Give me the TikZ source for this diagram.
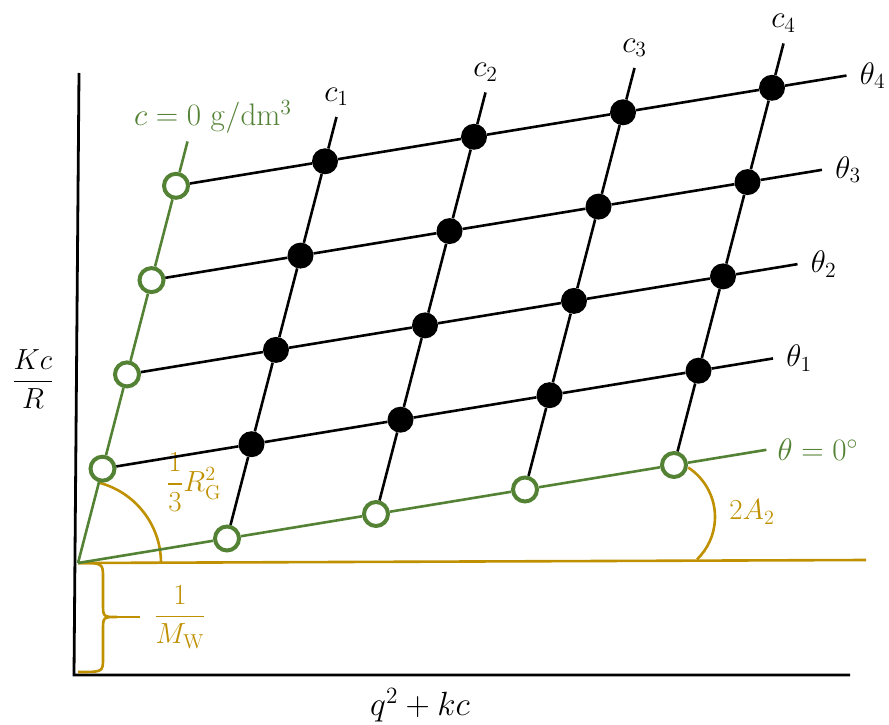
\documentclass[tikz,border=0pt]{standalone}
\usepackage{amsmath}
\definecolor{zmgreen}{RGB}{84,130,53}
\definecolor{zmgold}{RGB}{191,144,0}
\usetikzlibrary{calc,positioning}

\begin{document}
\begin{tikzpicture}[x=1pt,y=1pt,
    dot/.style={circle,fill=black,minimum size=26pt,inner sep=0pt},
    ring/.style={circle,draw=zmgreen,fill=white,line width=4pt,minimum size=24pt,inner sep=0pt},
    gridline/.style={line width=2.6pt,black},
    zeroline/.style={line width=2.6pt,zmgreen},
    goldline/.style={line width=2.6pt,zmgold},
    lbl/.style={font=\huge,scale=1.5,transform shape,inner sep=2pt},
    biglbl/.style={font=\huge,scale=1.4,transform shape,inner sep=2pt},
    axislbl/.style={font=\huge,scale=1.62,transform shape,inner sep=2pt}]
  \useasboundingbox (0,0) rectangle (889,724);

  %% Axes
  \coordinate (O) at (78,161);
  \coordinate (ytop) at (79,651);
  \coordinate (corner) at (74,49);
  \coordinate (xend) at (850,49);
  \draw[line width=2.8pt] (ytop) -- (corner) -- (xend);
  \node[biglbl] (ly) at (33,345) {$\dfrac{Kc}{R}$};
  \node[axislbl] (lx) at (420,19) {$q^2+kc$};

  %% Intercept and limiting slopes (gold)
  \coordinate (gend) at (866,164);
  \draw[goldline] (O) -- (gend);
  \draw[goldline] ($(O)+(83,0)$) arc[start angle=0,end angle=75.4,radius=83];
  \coordinate (arcc) at (656,207);
  \draw[goldline] ($(arcc)+(57:59)$) arc[start angle=57,end angle=-46,radius=59];
  \draw[goldline] (O) .. controls (103,161) .. (103,146) -- (103,121)
        .. controls (103,107) .. (117,107) .. controls (103,107) .. (103,93)
        -- (103,66) .. controls (103,52) .. (78,52);
  \draw[goldline] (117,107) -- (140,107);
  \node[biglbl,text=zmgold] (lmw) at (180,107) {$\dfrac{1}{M_\mathrm{W}}$};
  \node[biglbl,text=zmgold] (lrg) at (194,242) {$\dfrac{1}{3}R_\mathrm{G}^2$};
  \node[biglbl,text=zmgold] (la2) at (752,212) {$2A_2$};

  %% Measured points (grid) and extrapolated points (rings)
  \coordinate (top0) at ($(O)+4.47*(24.5,94.3)$);
  \coordinate (end0) at ($(O)+4.62*(149,24.5)$);
  \foreach \i in {1,...,4}{
    \node[ring] (p\i0) at ($(O)+\i*(149,24.5)$) {};
    \node[ring] (p0\i) at ($(O)+\i*(24.5,94.3)$) {};
    \coordinate (top\i) at ($(O)+\i*(149,24.5)+4.47*(24.5,94.3)$);
    \coordinate (end\i) at ($(O)+4.5*(149,24.5)+\i*(24.5,94.3)$);
    \foreach \j in {1,...,4}
      \node[dot] (p\i\j) at ($(O)+\i*(149,24.5)+\j*(24.5,94.3)$) {};
  }

  %% Extrapolation lines
  \draw[zeroline] (O) -- (p01) -- (p02) -- (p03) -- (p04) -- (top0);
  \draw[zeroline] (O) -- (p10) -- (p20) -- (p30) -- (p40) -- (end0);
  \node[lbl,text=zmgreen,above=5pt of top0,xshift=17pt] (lc0) {$c = 0\ \mathrm{g/dm^3}$};
  \node[lbl,text=zmgreen,right=8pt of end0] (lt0) {$\theta = 0^\circ$};

  %% Constant concentration / constant angle lines
  \foreach \k in {1,...,4}{
    \draw[gridline] (p\k0) -- (p\k1) -- (p\k2) -- (p\k3) -- (p\k4) -- (top\k);
    \draw[gridline] (p0\k) -- (p1\k) -- (p2\k) -- (p3\k) -- (p4\k) -- (end\k);
    \node[lbl,above=8pt of top\k] (lc\k) {$c_\k$};
    \node[lbl,right=10pt of end\k] (lt\k) {$\theta_\k$};
  }
\end{tikzpicture}
\end{document}
